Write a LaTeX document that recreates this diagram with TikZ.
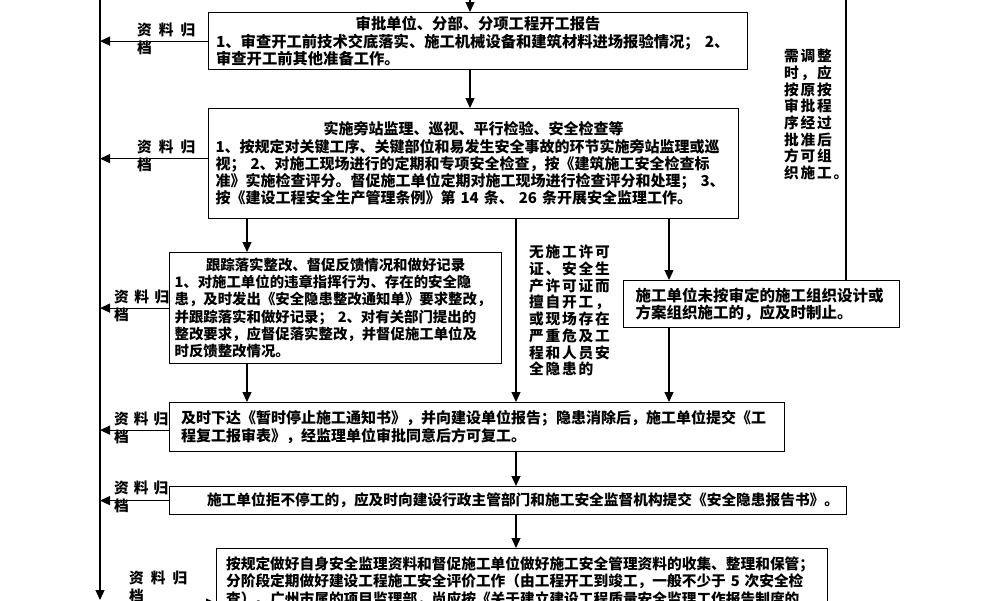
\documentclass[tikz,border=0pt]{standalone}
\usepackage{fontspec}
\setmainfont{Noto Sans CJK SC}
\newfontfamily\spacedcjk{Noto Sans CJK SC}[LetterSpace=12]
\usetikzlibrary{arrows.meta}
\begin{document}
\begin{tikzpicture}[x=1pt,y=-1pt,
  box/.style={draw=black, line width=1.2pt, inner xsep=0pt, inner ysep=2pt, anchor=north west, align=left},
  fs/.style={font=\bfseries\fontsize{#1}{17.3}\selectfont},
  arr/.style={line width=1.2pt, -{Triangle[length=10pt,width=9pt]}},
  ln/.style={line width=1.2pt},
  lbl/.style={align=left, inner sep=0pt, font=\bfseries\fontsize{14.7}{18.5}\selectfont, anchor=west},
  side/.style={align=left, inner sep=0pt, anchor=north west, font=\spacedcjk\bfseries\fontsize{14.7}{16.7}\selectfont},
]
\useasboundingbox (0,0) rectangle (1000,600);

% reference coordinates
\coordinate (sp) at (100,0);
\coordinate (spEnd) at (100,600);
\coordinate (topIn) at (470,0);
\coordinate (c1) at (247,0);
\coordinate (c2) at (516,0);
\coordinate (c3) at (669,0);
\coordinate (rtop) at (846,0);
\coordinate (b7in) at (185,603);

% boxes
\node[box, fs=15.3, minimum width=539pt, minimum height=57pt, text width=524pt] (B1) at (208,12)
 {\makebox[\linewidth]{审批单位、分部、分项工程开工报告}\\1、审查开工前技术交底落实、施工机械设备和建筑材料进场报验情况；~2、\\审查开工前其他准备工作。};

\node[box, fs=15.0, minimum width=530pt, minimum height=110pt, text width=516pt] (B2) at (208,108)
 {\makebox[\linewidth]{实施旁站监理、巡视、平行检验、安全检查等}\\1、按规定对关键工序、关键部位和易发生安全事故的环节实施旁站监理或巡\\视；~2、对施工现场进行的定期和专项安全检查，按《建筑施工安全检查标\\准》实施检查评分。督促施工单位定期对施工现场进行检查评分和处理；~3、\\按《建设工程安全生产管理条例》第~14~条、~26~条开展安全监理工作。};

\node[box, fs=14.4, minimum width=332pt, minimum height=111pt, text width=322pt] (B3) at (169,252)
 {\makebox[\linewidth]{跟踪落实整改、督促反馈情况和做好记录}\\1、对施工单位的违章指挥行为、存在的安全隐\\患，及时发出《安全隐患整改通知单》要求整改，\\并跟踪落实和做好记录；~2、对有关部门提出的\\整改要求，应督促落实整改，并督促施工单位及\\时反馈整改情况。};

\node[box, fs=15.5, minimum width=276pt, minimum height=47pt, text width=252pt] (B4) at (623,280)
 {施工单位未按审定的施工组织设计或\\方案组织施工的，应及时制止。};

\node[box, fs=15.0, minimum width=615pt, minimum height=49pt, text width=592pt] (B5) at (169,402)
 {及时下达《暂时停止施工通知书》，并向建设单位报告；隐患消除后，施工单位提交《工\\程复工报审表》，经监理单位审批同意后方可复工。};

\node[box, fs=14.7, align=right, minimum width=677pt, minimum height=28pt, text width=662pt] (B6) at (169,486)
 {施工单位拒不停工的，应及时向建设行政主管部门和施工安全监督机构提交《安全隐患报告书》。};

\node[box, fs=14.7, inner ysep=8pt, minimum width=611pt, text width=592pt] (B7) at (216,548)
 {按规定做好自身安全监理资料和督促施工单位做好施工安全管理资料的收集、整理和保管；\\分阶段定期做好建设工程施工安全评价工作（由工程开工到竣工，一般不少于~5~次安全检\\查）。广州市属的项目监理部，尚应按《关于建立建设工程质量安全监理工作报告制度的};

% side texts
\node[side] (T1) at (529,245) {无施工许可\\证、安全生\\产许可证而\\擅自开工，\\或现场存在\\严重危及工\\程和人员安\\全隐患的};
\node[side] (T2) at (784,49) {需调整\\时，应\\按原按\\审批程\\序经过\\批准后\\方可组\\织施工。};

% archive labels
\node[lbl] (L1) at (137,39) {资\hspace{7pt}料\hspace{7pt}归\\档};
\node[lbl] (L2) at (137,156) {资\hspace{7pt}料\hspace{7pt}归\\档};
\node[lbl] (L3) at (114,306) {资\hspace{5.5pt}料\hspace{5.5pt}归\\档};
\node[lbl] (L5) at (114,428) {资\hspace{5pt}料\hspace{5pt}归\\档};
\node[lbl] (L6) at (114,497) {资\hspace{5pt}料\hspace{5pt}归\\档};
\node[lbl] (L7) at (129,587) {资\hspace{7pt}料\hspace{7pt}归\\档};

% spine
\draw[arr] (sp) -- (spEnd);

% archive arrows
\draw[arr] (B1.west) -- (B1.west -| sp);
\draw[arr] ([yshift=5pt]B2.west) -- ([yshift=5pt]B2.west -| sp);
\draw[arr] (B3.west) -- (B3.west -| sp);
\draw[arr] ([yshift=-3pt]B5.west) -- ([yshift=-3pt]B5.west -| sp);
\draw[arr] (B6.west) -- (B6.west -| sp);
\draw[arr] (b7in) -- (b7in -| B7.west);

% main flow
\draw[arr] (topIn) -- (topIn |- B1.north);
\draw[arr] (B1.south -| topIn) -- (B2.north -| topIn);
\draw[arr] (B2.south -| c1) -- (B3.north -| c1);
\draw[arr] (B2.south -| c2) -- (B5.north -| c2);
\draw[arr] (B2.south -| c3) -- (B4.north -| c3);
\draw[arr] (B3.south -| c1) -- (B5.north -| c1);
\draw[arr] (B4.south -| c3) -- (B5.north -| c3);
\draw[arr] (B5.south -| c2) -- (B6.north -| c2);
\draw[arr] (B6.south -| c2) -- (B7.north -| c2);

% right return line
\draw[ln] (rtop |- B4.north) -- (rtop);
\end{tikzpicture}
\end{document}
